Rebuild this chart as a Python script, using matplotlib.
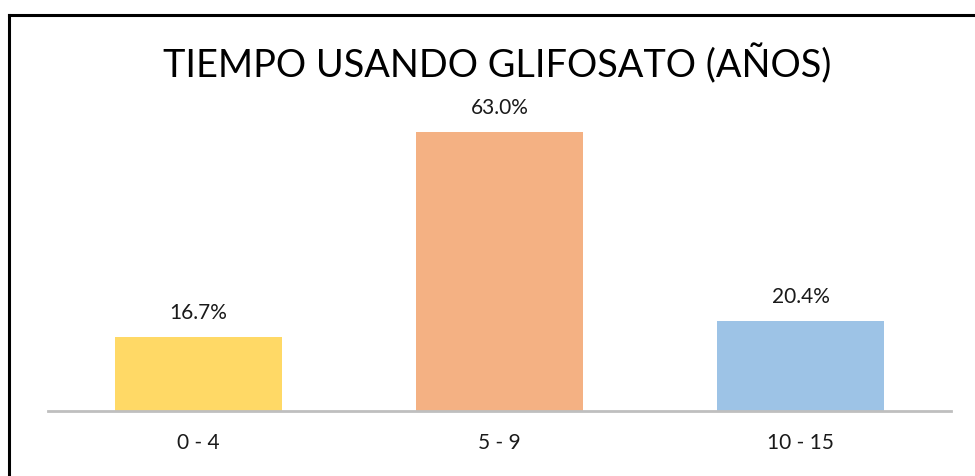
import matplotlib
matplotlib.use('Agg')
import matplotlib.pyplot as plt
from matplotlib.lines import Line2D
import numpy as np

categories = ["0 - 4", "5 - 9", "10 - 15"]
values = [16.7, 63.0, 20.4]
colors = ["#FFD966", "#F4B183", "#9DC3E6"]
title = "TIEMPO USANDO GLIFOSATO (AÑOS)"

plt.rcParams['font.family'] = ['Lato', 'DejaVu Sans']

W, H = 975, 477
fig = plt.figure(figsize=(W / 100, H / 100), dpi=100)
ax = fig.add_axes([48 / W, 1 - 412 / H, (951 - 48) / W, (412 - 100) / H])

x = np.arange(len(categories))
ax.bar(x, values, width=0.558, color=colors, zorder=2)

for xi, v in zip(x, values):
    ax.annotate(f"{v:.1f}%", (xi, v), xytext=(0, 18), textcoords="offset points",
                ha="center", va="center", fontsize=15, color="#1a1a1a")

ax.set_xlim(-0.5, len(categories) - 0.5)
ax.set_ylim(0, 70.4)
ax.set_xticks(x)
ax.set_xticklabels(categories, fontsize=15, color="#1a1a1a")
ax.tick_params(axis="x", length=0, pad=15)
ax.set_yticks([])
for side in ["left", "right", "top"]:
    ax.spines[side].set_visible(False)
ax.spines["bottom"].set_color("#BFBFBF")
ax.spines["bottom"].set_linewidth(2)
ax.spines["bottom"].set_zorder(3)

fig.text(0.51, 1 - 64 / H, title, ha="center", va="center", fontsize=27.3, color="black")

# frame (only left and top edges are visible in the crop)
fig.add_artist(Line2D([9 / W, 9 / W], [0, 1 - 16 / H], transform=fig.transFigure,
                      color="black", lw=2.2))
fig.add_artist(Line2D([9 / W, 1], [1 - 16 / H, 1 - 16 / H], transform=fig.transFigure,
                      color="black", lw=2.2))

fig.savefig("out.png", dpi=100)
plt.close(fig)
